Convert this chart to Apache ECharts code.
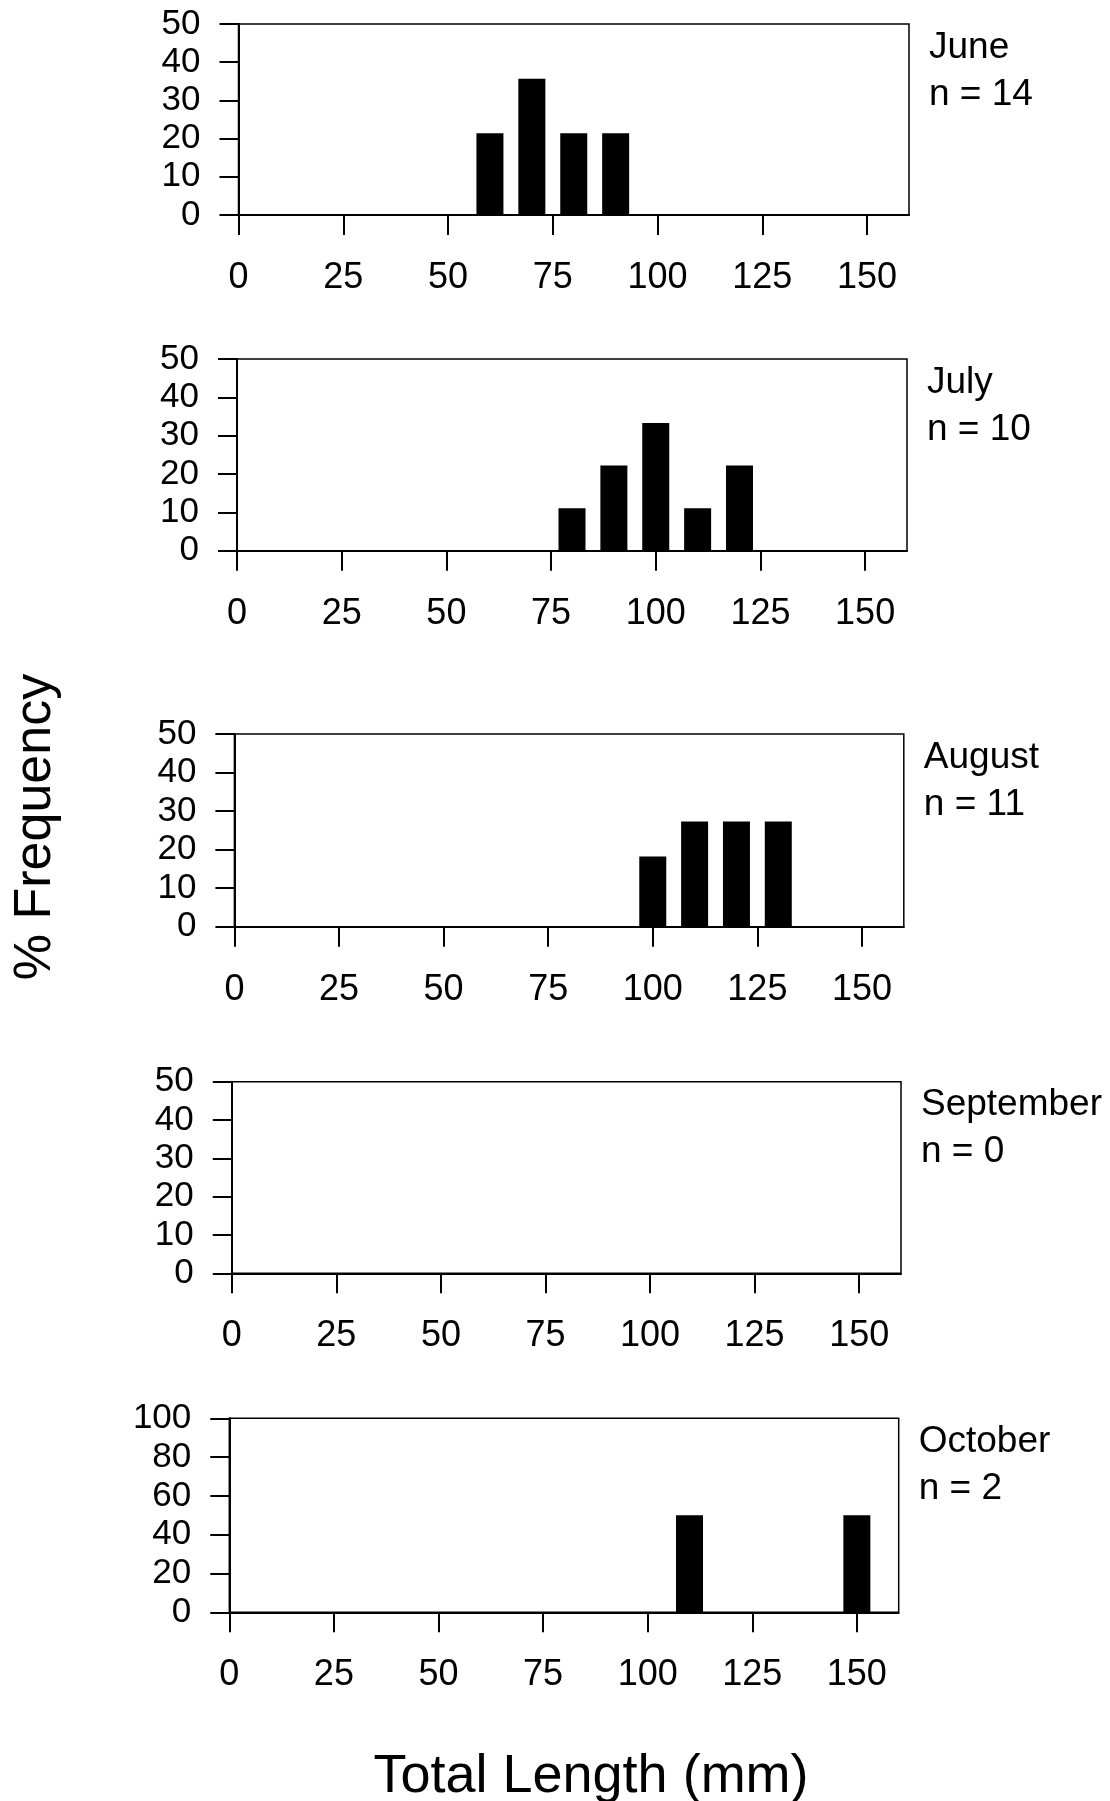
<!DOCTYPE html>
<html>
<head>
<meta charset="utf-8">
<script src="https://cdn.jsdelivr.net/npm/echarts@6/dist/echarts.min.js"></script>
<style>
  html, body { margin: 0; padding: 0; background: #fff; }
  #chart { width: 1110px; height: 1801px; }
</style>
</head>
<body>
<div id="chart"></div>
<script>
// length-frequency data, one pair of arrays per month
const months = ['June', 'July', 'August', 'September', 'October'];
const nCounts = [14, 10, 11, 0, 2];

const juneLen = [60, 70, 80, 90];
const junePct = [21.4, 35.7, 21.4, 21.4];
const julyLen = [80, 90, 100, 110, 120];
const julyPct = [11.1, 22.2, 33.3, 11.1, 22.2];
const augLen = [100, 110, 120, 130];
const augPct = [18.2, 27.3, 27.3, 27.3];
const sepLen = [];
const sepPct = [];
const octLen = [110, 150];
const octPct = [50, 50];

const xTicks = [0, 25, 50, 75, 100, 125, 150];
const yMax = [50, 50, 50, 50, 100];
const yStep = [10, 10, 10, 10, 20];

const lengths = [juneLen, julyLen, augLen, sepLen, octLen];
const pcts = [junePct, julyPct, augPct, sepPct, octPct];

const panels = [
    { left: 238.5, right: 909, top: 24, height: 191 },
    { left: 237, right: 907, top: 359, height: 191.7 },
    { left: 234.4, right: 903.8, top: 734, height: 192.7 },
    { left: 231.8, right: 901, top: 1081.7, height: 191.6 },
    { left: 229.3, right: 898.7, top: 1418.3, height: 194 }
];

const FONT = '"Liberation Sans", Arial, Helvetica, sans-serif';

const chart = echarts.init(document.getElementById('chart'), null, { renderer: 'canvas' });

const grid = [], xAxis = [], yAxis = [], series = [], title = [];

panels.forEach((p, i) => {
    grid.push({
        left: p.left,
        width: p.right - p.left,
        top: p.top,
        height: p.height,
        show: true,
        borderColor: '#000',
        borderWidth: 1.5,
        backgroundColor: 'transparent'
    });
    xAxis.push({
        type: 'value',
        gridIndex: i,
        min: 0,
        max: 160,
        splitLine: { show: false },
        axisLine: { show: true, onZero: true, lineStyle: { color: '#000', width: 2 } },
        axisTick: { show: true, length: 20, customValues: xTicks, lineStyle: { color: '#000', width: 2 } },
        axisLabel: {
            customValues: xTicks,
            margin: 45,
            color: '#000',
            fontSize: 36,
            fontFamily: FONT
        }
    });
    yAxis.push({
        type: 'value',
        gridIndex: i,
        min: 0,
        max: yMax[i],
        interval: yStep[i],
        splitLine: { show: false },
        axisLine: { show: true, lineStyle: { color: '#000', width: 2 } },
        axisTick: { show: true, length: 19, lineStyle: { color: '#000', width: 2 } },
        axisLabel: {
            margin: 38,
            color: '#000',
            fontSize: 35,
            fontFamily: FONT
        }
    });
    series.push({
        type: 'bar',
        xAxisIndex: i,
        yAxisIndex: i,
        barWidth: 27,
        itemStyle: { color: '#000' },
        data: lengths[i].map((l, k) => [l, pcts[i][k]])
    });
    title.push({
        text: months[i] + '\nn = ' + nCounts[i],
        left: p.right + 20,
        top: p.top,
        padding: 0,
        textStyle: {
            color: '#000',
            fontSize: 37,
            fontWeight: 'normal',
            fontFamily: FONT,
            lineHeight: 47
        }
    });
});

chart.setOption({
    backgroundColor: '#fff',
    animation: false,
    title: title,
    grid: grid,
    xAxis: xAxis,
    yAxis: yAxis,
    series: series,
    graphic: [
        {
            type: 'text',
            x: 36,
            y: 827,
            rotation: Math.PI / 2,
            style: {
                text: '% Frequency',
                fill: '#000',
                font: '52px ' + FONT,
                align: 'center',
                verticalAlign: 'middle'
            }
        },
        {
            type: 'text',
            x: 591,
            y: 1777,
            style: {
                text: 'Total Length (mm)',
                fill: '#000',
                font: '54px ' + FONT,
                align: 'center',
                verticalAlign: 'middle'
            }
        }
    ]
});
</script>
</body>
</html>
